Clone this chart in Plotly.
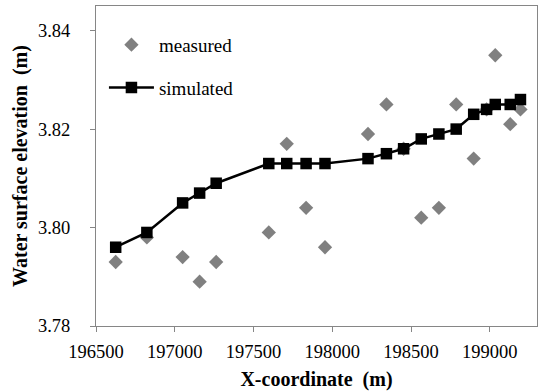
import plotly.graph_objects as go

x_coord = [196625, 196823, 197050, 197158, 197263, 197597, 197711, 197834, 197954, 198227,
           198344, 198453, 198565, 198677, 198787, 198898, 198980, 199035, 199130, 199195]
measured = [3.793, 3.798, 3.794, 3.789, 3.793, 3.799, 3.817, 3.804, 3.796, 3.819,
            3.825, 3.816, 3.802, 3.804, 3.825, 3.814, 3.824, 3.835, 3.821, 3.824]
simulated = [3.796, 3.799, 3.805, 3.807, 3.809, 3.813, 3.813, 3.813, 3.813, 3.814,
             3.815, 3.816, 3.818, 3.819, 3.820, 3.823, 3.824, 3.825, 3.825, 3.826]
x_ticks = [196500, 197000, 197500, 198000, 198500, 199000]
y_ticks = [3.78, 3.80, 3.82, 3.84]

font = "Liberation Serif"
fig = go.Figure()
fig.add_trace(go.Scatter(x=x_coord, y=measured, mode="markers", name="measured",
                         legendgroup="m",
                         marker=dict(symbol="diamond", size=11, color="#808080")))
fig.add_trace(go.Scatter(x=x_coord, y=simulated, mode="lines+markers", name="simulated",
                         legendgroup="s",
                         line=dict(color="black", width=2.5),
                         marker=dict(symbol="square", size=11.5, color="black")))

for upd, ticks, txt, title, standoff, rng, tls in (
        (fig.update_xaxes, x_ticks, [str(v) for v in x_ticks], "<b>X-coordinate  (m)</b>", 10, [196500, 199300], 4),
        (fig.update_yaxes, y_ticks, [f"{v:.2f}" for v in y_ticks], "<b>Water surface elevation  (m)</b>", 4, [3.78, 3.845], 16)):
    upd(range=rng, tickvals=ticks, ticktext=txt, automargin=False,
        showgrid=False, zeroline=False, showline=True, mirror=True,
        linecolor="#868686", linewidth=1, ticks="outside", ticklen=5, tickcolor="#868686",
        tickfont_family=font, tickfont_size=18.5, tickfont_color="black",
        ticklabelstandoff=tls,
        title_text=title, title_font_family=font, title_font_size=20, title_font_color="black",
        title_standoff=standoff)

fig.update_layout(
    width=538, height=392,
    font=dict(family=font, size=16, color="black"),
    margin=dict(l=96, r=1, t=6, b=66),
    plot_bgcolor="white", paper_bgcolor="white",
    showlegend=True,
    legend=dict(x=0.018, y=0.938, xanchor="left", yanchor="top", bgcolor="rgba(0,0,0,0)",
                font=dict(family=font, size=19, color="black"), tracegroupgap=15,
                itemwidth=45),
)
fig.write_html("out.html", config={"displayModeBar": False},
               post_script="document.body.style.margin='0';document.body.style.padding='0';")
